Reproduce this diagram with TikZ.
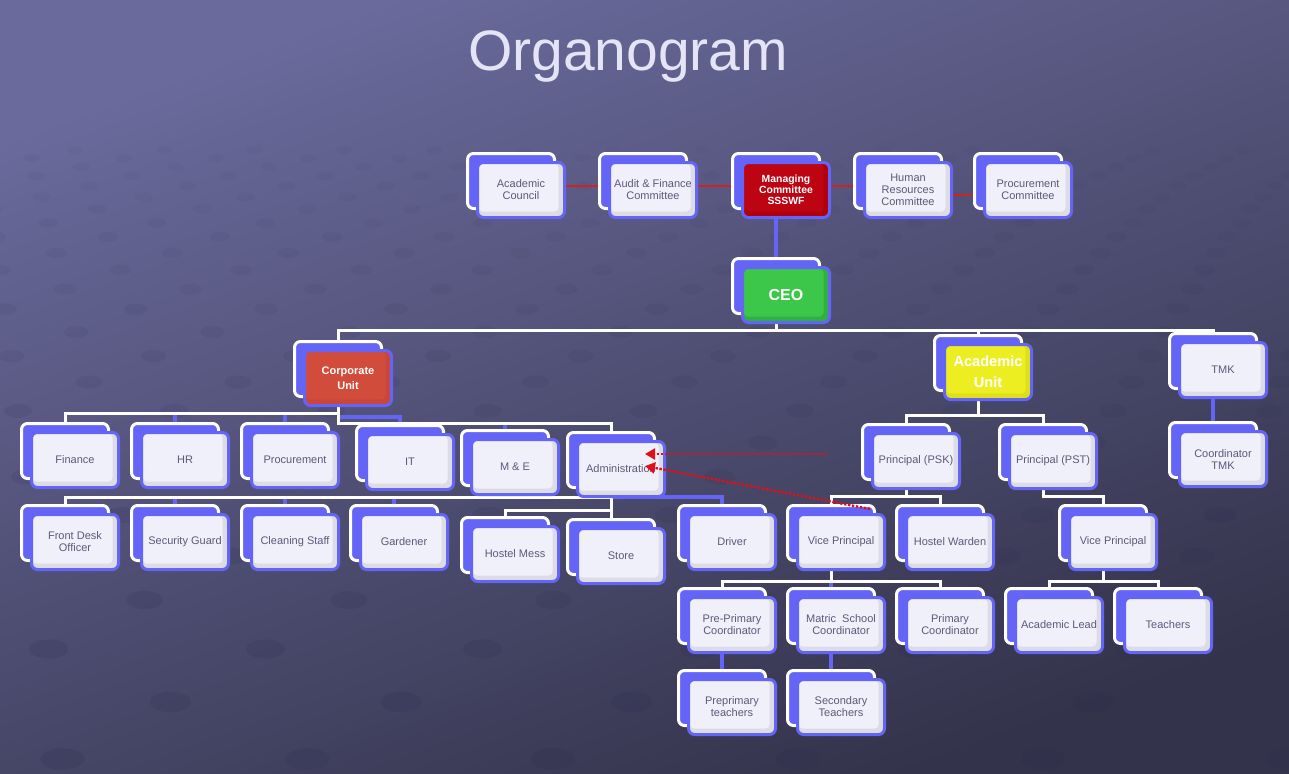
\documentclass[tikz,border=0pt]{standalone}
\usepackage{fontspec}
\setmainfont{Liberation Sans}
\usetikzlibrary{arrows.meta,calc}
\pgfdeclarelayer{bg}
\pgfdeclarelayer{lines}
\pgfsetlayers{bg,lines,main}
\definecolor{bgtop}{HTML}{6A6A9C}
\definecolor{bgbot}{HTML}{33334B}
\definecolor{dotcol}{HTML}{2C2C50}
\definecolor{boxblue}{HTML}{6464F6}
\definecolor{lbltext}{HTML}{5A5A7A}
\definecolor{plainband}{HTML}{DCDCE6}
\definecolor{plainin}{HTML}{F0F0FA}
\definecolor{ceoband}{HTML}{30B040}
\definecolor{ceoin}{HTML}{3CC64A}
\definecolor{corpband}{HTML}{C8463A}
\definecolor{corpin}{HTML}{D24C3C}
\definecolor{acuband}{HTML}{DDDF1C}
\definecolor{acuin}{HTML}{ECEE22}
\definecolor{mcband}{HTML}{B0000E}
\definecolor{mcin}{HTML}{BC0412}
\definecolor{linkred}{HTML}{CC2424}
\definecolor{arrowred}{HTML}{E0101A}
\definecolor{titlecol}{HTML}{E4E4F6}
\newcommand\lblfont{\fontsize{5.5pt}{6pt}\selectfont}
\newcommand\orgbox[5][frontbox=plain]{%
  \node[backbox] (#2) at (#3,#4) {};
  \node[#1] (#2f) at ([shift={(10,9)}]#2) {#5};}
\tikzset{
  backbox/.style={draw=white, fill=boxblue, line width=1.5pt, rounded corners=3pt,
    minimum width=43.5pt, minimum height=27.5pt, inner sep=0pt},
  frontbox/.style={draw=boxblue, line width=1.5pt, rounded corners=3pt,
    minimum width=43.5pt, minimum height=27.5pt, inner sep=1pt, align=center,
    font=\lblfont, text=lbltext, fill=#1band,
    path picture={\fill[#1in, rounded corners=2pt]
      ([shift={(0.6pt,-0.6pt)}]path picture bounding box.north west) rectangle
      ([shift={(-3pt,3pt)}]path picture bounding box.south east);}},
  hdr/.style={text=white},
  wline/.style={draw=white, line width=1.5pt},
  bline/.style={draw=boxblue, line width=2pt},
  rline/.style={draw=linkred, line width=1pt},
  rarrow/.style={draw=arrowred, line width=1.2pt, dash pattern=on 1.2pt off 0.8pt,
    -{Triangle[length=5pt,width=5.5pt]}},
}
\begin{document}
\begin{tikzpicture}[x=0.5pt,y=-0.5pt]
\useasboundingbox (0,0) rectangle (1289,773);
\begin{pgfonlayer}{bg}
\shade[top color=bgtop, bottom color=bgbot, shading angle=20] (0,0) rectangle (1289,773);
\begin{scope}
\clip (0,0) rectangle (1289,773);
\foreach \yy [count=\i] in {150,158,167,176,186,197,209,223,237,253,270,289,309,332,356,382,411,443,477,515,556,600,649,702,759}{
  \pgfmathsetmacro\s{100+0.255*(\yy-190)}
  \pgfmathsetmacro\op{0.04+0.16*(\yy-150)/610}
  \pgfmathsetmacro\rx{0.045*\s}
  \pgfmathsetmacro\ry{0.022*\s}
  \foreach \k in {0,...,15}{
    \pgfmathsetmacro\xx{-60+mod(\i,2)*\s/2+\k*\s}
    \fill[dotcol, opacity=\op] (\xx,\yy) ellipse [x radius=\rx pt, y radius=\ry pt];
  }
}
\end{scope}
\end{pgfonlayer}

\node[font=\fontsize{28.5pt}{30pt}\selectfont, text=titlecol] (title) at (628,57) {Organogram};

% committees
\orgbox{ac}{511}{181}{Academic\\Council}
\orgbox{af}{643}{181}{Audit \& Finance\\Committee}
\orgbox[frontbox=mc, hdr, font=\bfseries\fontsize{5.2pt}{5.4pt}\selectfont]{mc}{776}{181}{Managing\\Committee\\SSSWF}
\orgbox{hr}{898}{181}{Human\\Resources\\Committee}
\orgbox{pc}{1018}{181}{Procurement\\Committee}
% CEO and units
\orgbox[frontbox=ceo, hdr, font=\bfseries\fontsize{8pt}{9pt}\selectfont]{ceo}{776}{286}{CEO}
\orgbox[frontbox=corp, hdr, font=\bfseries\fontsize{5.5pt}{7.5pt}\selectfont]{corp}{338}{369}{Corporate\\Unit}
\orgbox[frontbox=acu, hdr, font=\bfseries\fontsize{7.3pt}{10.5pt}\selectfont]{acu}{978}{363}{Academic\\Unit}
\orgbox{tmk}{1213}{361}{TMK}
\orgbox{ctmk}{1213}{450}{Coordinator\\TMK}
% corporate children
\orgbox{fin}{65}{451}{Finance}
\orgbox{hrd}{175}{451}{HR}
\orgbox{prc}{285}{451}{Procurement}
\orgbox{itd}{400}{453}{IT}
\orgbox{mne}{505}{458}{M \& E}
\orgbox{adm}{611}{460}{Administration}
% administration children
\orgbox{fdo}{65}{533}{Front Desk\\Officer}
\orgbox{sgd}{175}{533}{Security Guard}
\orgbox{cls}{285}{533}{Cleaning Staff}
\orgbox{gdn}{394}{533}{Gardener}
\orgbox{hms}{505}{545}{Hostel Mess}
\orgbox{sto}{611}{547}{Store}
\orgbox{drv}{722}{533}{Driver}
% academic branch
\orgbox{psk}{906}{452}{Principal (PSK)}
\orgbox{pst}{1043}{452}{Principal (PST)}
\orgbox{vpa}{831}{533}{Vice Principal}
\orgbox{hwd}{940}{533}{Hostel Warden}
\orgbox{vpb}{1103}{533}{Vice Principal}
\orgbox{ppc}{722}{616}{Pre-Primary\\Coordinator}
\orgbox{msc}{831}{616}{Matric\ \ School\\Coordinator}
\orgbox{pcd}{940}{616}{Primary\\Coordinator}
\orgbox{ald}{1049}{616}{Academic Lead}
\orgbox{tch}{1158}{616}{Teachers}
\orgbox{ppt}{722}{698}{Preprimary\\teachers}
\orgbox{sct}{831}{698}{Secondary\\Teachers}

% bus levels
\coordinate (h330) at (0,330);
\coordinate (h413) at (0,413);
\coordinate (h417) at (0,417);
\coordinate (h423) at (0,423);
\coordinate (h497) at (0,497);
\coordinate (h510) at (0,510);
\coordinate (h415) at (0,415);
\coordinate (h496) at (0,496);
\coordinate (h581) at (0,581);

\begin{pgfonlayer}{lines}
% committee links
\draw[rline] ([shift={(0,5)}]ac.center) -- ([shift={(0,5)}]af.center);
\draw[rline] ([shift={(0,5)}]af.center) -- ([shift={(0,5)}]mc.center);
\draw[rline] ([shift={(0,5)}]mc.center) -- ([shift={(0,5)}]hr.center);
\draw[rline] ([shift={(0,14)}]hr.center) -- ([shift={(0,14)}]pc.center);
\draw[bline] (mc) -- (ceo);
% CEO bus
\draw[wline] (corp) |- (tmk |- h330) -- (tmk);
\draw[wline] (ceo) -- (ceo |- h330);
\draw[wline] (acu) -- (acu |- h330);
\draw[bline] (tmk) -- (ctmk);
% corporate
\draw[bline] (hrd |- h413) -- (hrd);
\draw[bline] (prc |- h413) -- (prc);
\draw[bline] (corp |- h417) -| (itd);
\draw[bline] (mne |- h423) -- (mne);
\draw[wline] (corp) |- (fin |- h413) -- (fin);
\draw[wline] (corp) |- (adm |- h423) -- (adm);
% administration
\draw[bline] (sgd |- h497) -- (sgd);
\draw[bline] (cls |- h497) -- (cls);
\draw[bline] (gdn |- h497) -- (gdn);
\draw[bline] (adm |- h497) -| (drv);
\draw[wline] (adm) |- (fdo |- h497) -- (fdo);
\draw[wline] (adm) -- (sto);
\draw[wline] (adm |- h510) -| (hms);
% academic
\draw[wline] (psk) |- (acu |- h415) -| (pst);
\draw[wline] (acu) -- (acu |- h415);
\draw[wline] (vpa) |- (psk |- h496) -| (hwd);
\draw[wline] (psk) -- (psk |- h496);
\draw[wline] (pst) -- (pst |- h496) -| (vpb);
\draw[bline] (vpa |- h581) -- (msc);
\draw[wline] (ppc) |- (vpa |- h581) -| (pcd);
\draw[wline] (vpa) -- (vpa |- h581);
\draw[wline] (ald) |- (vpb |- h581) -| (tch);
\draw[wline] (vpb) -- (vpb |- h581);
\draw[bline] (ppc) -- (ppt);
\draw[bline] (msc) -- (sct);
\end{pgfonlayer}

% dotted red arrows
\coordinate (ra1s) at (827,454);
\coordinate (ra1e) at (645,454);
\coordinate (ra2s) at (870,509);
\coordinate (ra2e) at (645,466);
\draw[rarrow] (ra1s) -- (ra1e);
\draw[rarrow] (ra2s) -- (ra2e);
\end{tikzpicture}
\end{document}
